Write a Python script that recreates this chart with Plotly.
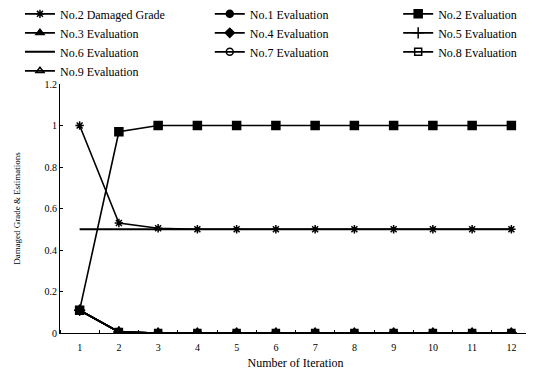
import plotly.graph_objects as go

iterations = [1, 2, 3, 4, 5, 6, 7, 8, 9, 10, 11, 12]
damaged_grade = [1.0, 0.53, 0.505, 0.5, 0.5, 0.5, 0.5, 0.5, 0.5, 0.5, 0.5, 0.5]
eval_no1 = [0.11, 0.005, 0.0, 0.0, 0.0, 0.0, 0.0, 0.0, 0.0, 0.0, 0.0, 0.0]
eval_no2 = [0.11, 0.97, 1.0, 1.0, 1.0, 1.0, 1.0, 1.0, 1.0, 1.0, 1.0, 1.0]
eval_no3 = [0.11, 0.005, 0.0, 0.0, 0.0, 0.0, 0.0, 0.0, 0.0, 0.0, 0.0, 0.0]
eval_no4 = [0.11, 0.005, 0.0, 0.0, 0.0, 0.0, 0.0, 0.0, 0.0, 0.0, 0.0, 0.0]
eval_no5 = [0.11, 0.005, 0.0, 0.0, 0.0, 0.0, 0.0, 0.0, 0.0, 0.0, 0.0, 0.0]
eval_no6 = [0.5, 0.5, 0.5, 0.5, 0.5, 0.5, 0.5, 0.5, 0.5, 0.5, 0.5, 0.5]
eval_no7 = [0.11, 0.005, 0.0, 0.0, 0.0, 0.0, 0.0, 0.0, 0.0, 0.0, 0.0, 0.0]
eval_no8 = [0.11, 0.005, 0.0, 0.0, 0.0, 0.0, 0.0, 0.0, 0.0, 0.0, 0.0, 0.0]
eval_no9 = [0.11, 0.005, 0.0, 0.0, 0.0, 0.0, 0.0, 0.0, 0.0, 0.0, 0.0, 0.0]

y_ticks = [0, 0.2, 0.4, 0.6, 0.8, 1.0, 1.2]
y_ticktext = ["0", "0.2", "0.4", "0.6", "0.8", "1", "1.2"]

# (name, values, marker symbol, marker size, legend column)
series = [
    ("No.2 Damaged Grade", damaged_grade, "asterisk-open", 7, "legend"),
    ("No.1 Evaluation", eval_no1, "circle", 7, "legend2"),
    ("No.2 Evaluation", eval_no2, "square", 8, "legend3"),
    ("No.3 Evaluation", eval_no3, "triangle-up", 7, "legend"),
    ("No.4 Evaluation", eval_no4, "diamond", 7, "legend2"),
    ("No.5 Evaluation", eval_no5, "cross-thin-open", 8, "legend3"),
    ("No.6 Evaluation", eval_no6, None, 0, "legend"),
    ("No.7 Evaluation", eval_no7, "circle-open", 7, "legend2"),
    ("No.8 Evaluation", eval_no8, "square-open", 7, "legend3"),
    ("No.9 Evaluation", eval_no9, "triangle-up-open", 7, "legend"),
]

fig = go.Figure()
for name, vals, sym, size, leg in series:
    if sym is None:
        fig.add_trace(go.Scatter(x=iterations, y=vals, name=name, mode="lines",
                                 legend=leg, line=dict(color="black", width=2)))
    else:
        fig.add_trace(go.Scatter(x=iterations, y=vals, name=name, mode="lines+markers",
                                 legend=leg, line=dict(color="black", width=1.6),
                                 marker=dict(symbol=sym, size=size, color="black",
                                             line=dict(color="black", width=1.5))))

leg_common = dict(orientation="v", yanchor="top", xanchor="left",
                  font=dict(family="Liberation Serif", size=12),
                  bgcolor="rgba(0,0,0,0)", tracegroupgap=0, itemwidth=30)

# page body has an 8px margin, so the figure is sized/offset to compensate
fig.update_layout(
    width=526, height=362,
    margin=dict(l=52, r=3, t=76, b=37, autoexpand=False),
    paper_bgcolor="white", plot_bgcolor="white",
    font=dict(family="Liberation Serif", size=10, color="black"),
    showlegend=True,
    legend=dict(x=-0.085, y=1.34, **leg_common),
    legend2=dict(x=0.318, y=1.34, **leg_common),
    legend3=dict(x=0.718, y=1.34, **leg_common),
    xaxis=dict(range=[0.5, 12.5], tickvals=iterations, ticks="",
               showline=True, linecolor="black", linewidth=1,
               showgrid=False, zeroline=False, ticklabelstandoff=5,
               minor=dict(tick0=0.5, dtick=1, ticks="inside", ticklen=3,
                          tickcolor="black", showgrid=False),
               title=dict(text="Number of Iteration", font=dict(size=12), standoff=6),
               tickfont=dict(size=10)),
    yaxis=dict(range=[0, 1.2], tickvals=y_ticks, ticktext=y_ticktext,
               ticks="inside", ticklen=3, tickcolor="black",
               showline=True, linecolor="black", linewidth=1,
               showgrid=False, zeroline=False,
               title=dict(text="Damaged Grade & Estimations", font=dict(size=9), standoff=22),
               tickfont=dict(size=10)),
)

fig.write_html("out.html")
